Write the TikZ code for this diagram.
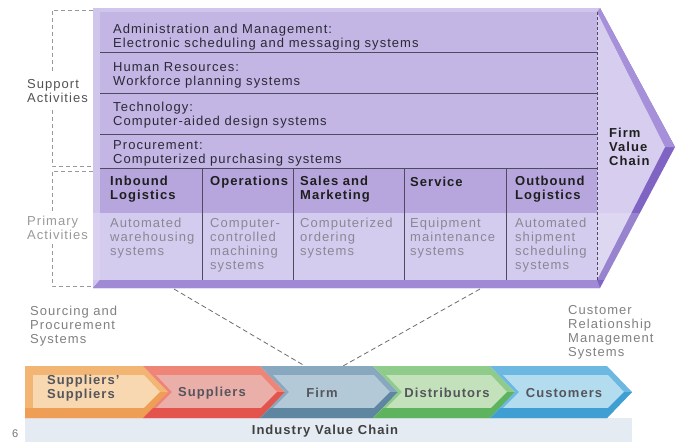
\documentclass[tikz,border=0pt]{standalone}
\usepackage{fontspec}
\setmainfont{Liberation Sans}[LetterSpace=8]

\definecolor{bodyedge}{HTML}{7F64C4}
\definecolor{bodyedgehi}{HTML}{A690D9}
\definecolor{bevel}{HTML}{D0C6EB}
\definecolor{bottomedge}{HTML}{A08AD6}
\definecolor{supportfill}{HTML}{C3B5E4}
\definecolor{headfill}{HTML}{B6A6DD}
\definecolor{primfill}{HTML}{CAC0EA}
\definecolor{facefill}{HTML}{D6CDEF}
\definecolor{rowline}{HTML}{4E4B5E}
\definecolor{darktext}{HTML}{2A2A36}
\definecolor{softtext}{HTML}{8A8794}
\definecolor{chaintext}{HTML}{55555C}
\definecolor{bandfill}{HTML}{E4EBF3}
% chain colours: mid, light face, dark edge
\definecolor{orgmid}{HTML}{F3B574}
\definecolor{orglight}{HTML}{F8D8B0}
\definecolor{orgdark}{HTML}{EE9E55}
\definecolor{redmid}{HTML}{EE8577}
\definecolor{redlight}{HTML}{EBAFA9}
\definecolor{reddark}{HTML}{E2544C}
\definecolor{stlmid}{HTML}{87A8BE}
\definecolor{stllight}{HTML}{B3C9D8}
\definecolor{stldark}{HTML}{5F86A0}
\definecolor{grnmid}{HTML}{8FCB8A}
\definecolor{grnlight}{HTML}{C3E2BB}
\definecolor{grndark}{HTML}{5EB35E}
\definecolor{blumid}{HTML}{6CB8E0}
\definecolor{blulight}{HTML}{B4DCEF}
\definecolor{bludark}{HTML}{3F9FD3}

\tikzset{
  row/.style={draw=rowline, line width=.8pt},
  txt/.style={inner sep=0pt, anchor=west, align=left, font=\fontsize{13}{14}\selectfont, text=darktext},
  head/.style={txt, font=\fontsize{13}{14}\selectfont\bfseries, text=black!88},
  soft/.style={txt, text=softtext},
  bracket/.style={draw=gray!80, line width=.8pt, dash pattern=on 4pt off 3pt},
  link/.style={draw=gray!85!black, line width=.8pt, dash pattern=on 5pt off 3pt},
  chainlbl/.style={inner sep=0pt, align=left, font=\fontsize{13}{14}\selectfont\bfseries, text=chaintext},
}

\begin{document}
\begin{tikzpicture}[x=1pt, y=-1pt]
\useasboundingbox (0,0) rectangle (676,442);

% firm value chain body
\fill[bodyedge] (93,8) -- (600,8) -- (675,147) -- (600,288) -- (93,288) -- cycle;
\fill[bodyedgehi] (600,8) -- (675,147) -- (665,147) -- (597,12) -- cycle;
\fill[bevel] (93,8) -- (600,8) -- (597,12) -- (100,12) -- (100,280) -- (93,288) -- cycle;
\fill[bottomedge] (93,288) -- (600,288) -- (597,280) -- (100,280) -- cycle;
\fill[supportfill] (100,12) rectangle (597,168);
\fill[headfill] (100,168) rectangle (597,213);
\fill[primfill] (100,213) rectangle (597,280);
\fill[facefill] (597,12) -- (665,147) -- (597,280) -- cycle;
\begin{scope}
\clip (93,8) -- (600,8) -- (675,147) -- (600,288) -- (93,288) -- cycle;
\fill[white, fill opacity=.2] (93,213) rectangle (676,280);
\end{scope}

\draw[row] (100,52) -- (597,52);
\draw[row] (100,93) -- (597,93);
\draw[row] (100,134) -- (597,134);
\draw[row] (100,168) -- (597,168);
\draw[row] (202,168) -- (202,280);
\draw[row] (293,168) -- (293,280);
\draw[row] (404,168) -- (404,280);
\draw[row] (506,168) -- (506,280);
\draw[rowline, line width=.7pt, dash pattern=on 3pt off 2pt] (597,12) -- (597,280);

% support activities
\node[txt] (adm) at (113,37) {Administration and Management:\\Electronic scheduling and messaging systems};
\node[txt] (hr) at (113,75) {Human Resources:\\Workforce planning systems};
\node[txt] (tech) at (113,115) {Technology:\\Computer-aided design systems};
\node[txt] (proc) at (113,153) {Procurement:\\Computerized purchasing systems};

% primary activities
\node[head] (inb) at (110,189) {Inbound\\Logistics};
\node[head] (ops) at (210,182) {Operations};
\node[head] (sal) at (300,189) {Sales and\\Marketing};
\node[head] (srv) at (410,182) {Service};
\node[head] (outb) at (515,189) {Outbound\\Logistics};

\node[soft] (inbs) at (110,238) {Automated\\warehousing\\systems};
\node[soft] (opss) at (210,245) {Computer-\\controlled\\machining\\systems};
\node[soft] (sals) at (300,238) {Computerized\\ordering\\systems};
\node[soft] (srvs) at (410,238) {Equipment\\maintenance\\systems};
\node[soft] (outbs) at (515,245) {Automated\\shipment\\scheduling\\systems};

\node[head] (fvc) at (609,147) {Firm\\Value\\Chain};

% brackets on the left
\draw[bracket] (93,10) -- (52,10) -- (52,72);
\draw[bracket] (52,110) -- (52,166) -- (93,166);
\draw[bracket] (93,171) -- (52,171) -- (52,212);
\draw[bracket] (52,244) -- (52,286) -- (93,286);
\node[txt, text=black!68] (sup) at (27,91) {Support\\Activities};
\node[txt, text=black!40] (pri) at (27,228) {Primary\\Activities};

% links down to the firm
\coordinate (vcl) at (174,289);
\coordinate (vcr) at (480,289);
\coordinate (firml) at (305,366);
\coordinate (firmr) at (343,366);
\draw[link] (vcl) -- (firml);
\draw[link] (vcr) -- (firmr);

\node[txt, text=black!50] (src) at (30,326) {Sourcing and\\Procurement\\Systems};
\node[txt, text=black!50] (crm) at (568,332) {Customer\\Relationship\\Management\\Systems};

% industry value chain
\fill[bandfill] (25,418) rectangle (632,442);

\fill[orgmid] (25,366) -- (143,366) -- (168,392) -- (143,418) -- (25,418) -- cycle;
\fill[orglight] (33,375) -- (144,375) -- (160,392) -- (144,408) -- (33,408) -- cycle;
\fill[orgdark] (25,408) -- (144,408) -- (160,392) -- (168,392) -- (143,418) -- (25,418) -- cycle;

\fill[redmid] (143,366) -- (260,366) -- (285,392) -- (260,418) -- (143,418) -- (168,392) -- cycle;
\fill[redlight] (156,375) -- (261,375) -- (277,392) -- (261,408) -- (156,408) -- (172,392) -- cycle;
\fill[reddark] (153,408) -- (261,408) -- (277,392) -- (285,392) -- (260,418) -- (143,418) -- cycle;

\fill[stlmid] (260,366) -- (373,366) -- (398,392) -- (373,418) -- (260,418) -- (285,392) -- cycle;
\fill[stllight] (273,375) -- (374,375) -- (390,392) -- (374,408) -- (273,408) -- (289,392) -- cycle;
\fill[stldark] (270,408) -- (374,408) -- (390,392) -- (398,392) -- (373,418) -- (260,418) -- cycle;

\fill[grnmid] (373,366) -- (490,366) -- (515,392) -- (490,418) -- (373,418) -- (398,392) -- cycle;
\fill[grnlight] (386,375) -- (491,375) -- (507,392) -- (491,408) -- (386,408) -- (402,392) -- cycle;
\fill[grndark] (383,408) -- (491,408) -- (507,392) -- (515,392) -- (490,418) -- (373,418) -- cycle;

\fill[blumid] (490,366) -- (607,366) -- (632,392) -- (607,418) -- (490,418) -- (515,392) -- cycle;
\fill[blulight] (503,375) -- (608,375) -- (624,392) -- (608,408) -- (503,408) -- (519,392) -- cycle;
\fill[bludark] (500,408) -- (608,408) -- (624,392) -- (632,392) -- (607,418) -- (490,418) -- cycle;

\node[chainlbl, anchor=west] (ss) at (47,388) {Suppliers'\\Suppliers};
\node[chainlbl] (sp) at (212,393) {Suppliers};
\node[chainlbl] (firm) at (322,393) {Firm};
\node[chainlbl] (dist) at (447,393) {Distributors};
\node[chainlbl] (cust) at (564,393) {Customers};

\node[chainlbl, text=black!75] (ivc) at (325,431) {Industry Value Chain};
\node[txt, text=black!55, font=\fontsize{11}{13}\selectfont] (pg) at (12,434) {6};
\end{tikzpicture}
\end{document}
